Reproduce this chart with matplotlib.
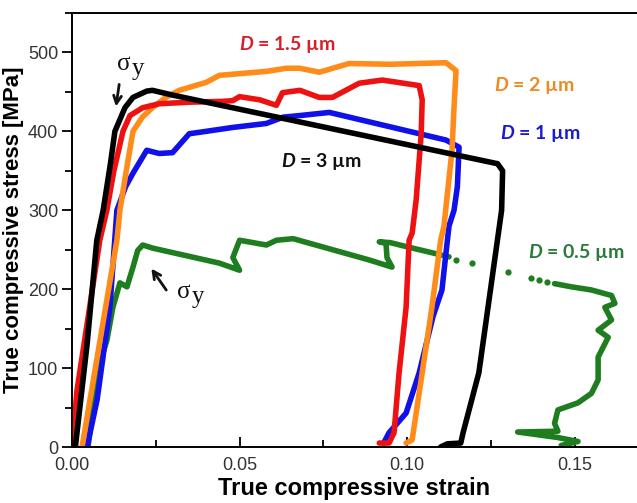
import matplotlib
matplotlib.use("Agg")
import matplotlib.pyplot as plt
from matplotlib.ticker import MultipleLocator

plt.rcParams["mathtext.fontset"] = "custom"
plt.rcParams["mathtext.it"] = "Lato:bold:italic"
plt.rcParams["mathtext.rm"] = "Lato:bold"

strain_3 = [0.0, 0.001, 0.0045, 0.0074, 0.0093, 0.0115, 0.0128, 0.0158, 0.0182,
            0.0223, 0.024, 0.030, 0.127, 0.1285, 0.1282, 0.1214, 0.1167, 0.1160,
            0.112, 0.110]
stress_3 = [0, 0, 130, 262, 300, 360, 400, 430, 443, 451, 452, 446, 359, 350,
            300, 94, 18, 5, 4, 0]

strain_15 = [0.0, 0.0015, 0.0083, 0.0104, 0.0125, 0.0152, 0.0173, 0.0211, 0.026,
             0.035, 0.045, 0.048, 0.050, 0.056, 0.061, 0.0628, 0.068, 0.0738,
             0.0777, 0.0857, 0.0926, 0.1036, 0.1045, 0.1042, 0.1027, 0.1015,
             0.1006, 0.0997, 0.0976, 0.0961, 0.0946, 0.0917]
stress_15 = [0, 72, 262, 300, 350, 400, 420, 430, 435, 437, 438, 439, 444, 440,
             433, 449, 452, 443, 443, 461, 465, 458, 440, 397, 313, 271, 262,
             177, 94, 18, 5, 5]

strain_2 = [0.003, 0.0134, 0.0143, 0.0162, 0.0182, 0.021, 0.024, 0.028, 0.032,
            0.040, 0.044, 0.058, 0.064, 0.0679, 0.0738, 0.0827, 0.095, 0.1116,
            0.1146, 0.1140, 0.1134, 0.1110, 0.1100, 0.1074, 0.1045, 0.1015,
            0.0997]
stress_2 = [0, 262, 300, 350, 400, 418, 430, 443, 452, 462, 471, 476, 480, 480,
            475, 486, 485, 487, 477, 430, 376, 280, 262, 177, 94, 9, 5]

strain_1 = [0.0045, 0.0075, 0.0113, 0.0134, 0.016, 0.0182, 0.0223, 0.026, 0.030,
            0.035, 0.040, 0.048, 0.058, 0.063, 0.0679, 0.0768, 0.1116, 0.1155,
            0.1150, 0.1140, 0.1125, 0.1116, 0.1104, 0.1077, 0.1036, 0.0997,
            0.0946, 0.093]
stress_1 = [0, 60, 177, 300, 330, 347, 376, 372, 373, 397, 400, 405, 410, 418,
            420, 424, 389, 380, 330, 300, 280, 246, 199, 165, 94, 43, 18, 5]

strain_05 = [0.0048, 0.0074, 0.0104, 0.0122, 0.0143, 0.0164, 0.0182, 0.0196,
             0.0211, 0.0241, 0.044, 0.050, 0.048, 0.050, 0.058, 0.061, 0.066,
             0.0887, 0.0955, 0.094, 0.0937, 0.0917, 0.095, 0.0997, 0.1125]
stress_05 = [0, 94, 135, 177, 208, 203, 228, 249, 256, 252, 233, 224, 240, 262,
             256, 262, 264, 237, 228, 240, 258, 260, 259, 254, 241]
# sparse points in the softening region
strain_05_dots = [0.1146, 0.1193, 0.130, 0.137, 0.1395, 0.1417]
stress_05_dots = [237, 233, 222, 214, 212, 209]
strain_05_end = [0.144, 0.149, 0.155, 0.161, 0.162, 0.159, 0.161, 0.157, 0.160,
                 0.157, 0.157, 0.155, 0.151, 0.145, 0.144, 0.145, 0.133, 0.145,
                 0.151, 0.146]
stress_05_end = [207, 203, 199, 192, 182, 177, 161, 148, 139, 114, 85, 68, 56,
                 47, 30, 20, 19, 12, 7, 2]

BLACK = "#000000"
RED = "#ee1111"
ORANGE = "#ff8c1a"
BLUE = "#1010e8"
GREEN = "#1e7d1e"

fig = plt.figure(figsize=(6.37, 5.03), dpi=100)
ax = fig.add_axes([72 / 637, 56 / 503, 565 / 637, 434 / 503])

lw = 4.0
kw = dict(lw=lw, solid_joinstyle="round", solid_capstyle="round")
ax.plot(strain_05, stress_05, color=GREEN, **kw)
ax.plot(strain_05_dots, stress_05_dots, "o", color=GREEN, ms=4.5, mec="none")
ax.plot(strain_05_end, stress_05_end, color=GREEN, **kw)
ax.plot(strain_1, stress_1, color=BLUE, **kw)
ax.plot(strain_2, stress_2, color=ORANGE, **kw)
ax.plot(strain_15, stress_15, color=RED, **kw)
ax.plot(strain_3, stress_3, color=BLACK, **kw)

lab = dict(family="Lato", fontweight="bold", fontsize=14, ha="center",
           va="center")
ax.text(0.0643, 510, r"$D$ = 1.5 µm", color="#d81e28", **lab)
ax.text(0.1380, 458, r"$D$ = 2 µm", color="#ee8a22", **lab)
ax.text(0.1397, 397, r"$D$ = 1 µm", color="#1a1ad0", **lab)
ax.text(0.0743, 362, r"$D$ = 3 µm", color="#111111", **lab)
ax.text(0.1505, 246, r"$D$ = 0.5 µm", color="#2a7a3a", **lab)

# yield stress markers
sig = dict(family="Liberation Serif", fontsize=18, color="#111111")
for sx, sy, tail, head in [(0.0134, 478, (0.0142, 463), (0.0130, 428)),
                           (0.0313, 189, (0.0286, 196), (0.0232, 229))]:
    ax.annotate("", xy=head, xytext=tail,
                arrowprops=dict(arrowstyle="->", lw=2.0, color="#111111",
                                mutation_scale=14))
    ax.text(sx, sy, "σ", ha="left", va="baseline", **sig)
    ax.annotate("y", xy=(sx, sy), xytext=(10.5, -4), textcoords="offset points",
                ha="left", va="baseline", **sig)

ax.set_xlim(0, 0.1686)
ax.set_ylim(0, 550)
ax.xaxis.set_minor_locator(MultipleLocator(0.025))
ax.yaxis.set_minor_locator(MultipleLocator(50))
ax.set_xticks([0, 0.05, 0.10, 0.15])
ax.set_xticklabels(["0.00", "0.05", "0.10", "0.15"])
ax.set_yticks([0, 100, 200, 300, 400, 500])
ax.set_yticklabels(["0", "100", "200", "300", "400", "500"])

ax.tick_params(axis="x", which="both", direction="in", width=1.3,
               labelsize=13, labelcolor="#333333", pad=7)
ax.tick_params(axis="x", which="major", length=7)
ax.tick_params(axis="x", which="minor", length=5)
ax.tick_params(axis="y", which="both", direction="out", width=1.3,
               labelsize=13, labelcolor="#333333", pad=3)
ax.tick_params(axis="y", which="major", length=7)
ax.tick_params(axis="y", which="minor", length=5)
for lbl in ax.get_xticklabels() + ax.get_yticklabels():
    lbl.set_family("Liberation Sans")

for s in ("left", "bottom", "top"):
    ax.spines[s].set_linewidth(1.4)
ax.spines["right"].set_visible(False)

ax.set_xlabel("True compressive strain", family="Liberation Sans",
              fontweight="bold", fontsize=17, labelpad=2)
ax.set_ylabel("True compressive stress [MPa]", family="Liberation Sans",
              fontweight="bold", fontsize=16, labelpad=3)

fig.savefig("out.png", dpi=100)
